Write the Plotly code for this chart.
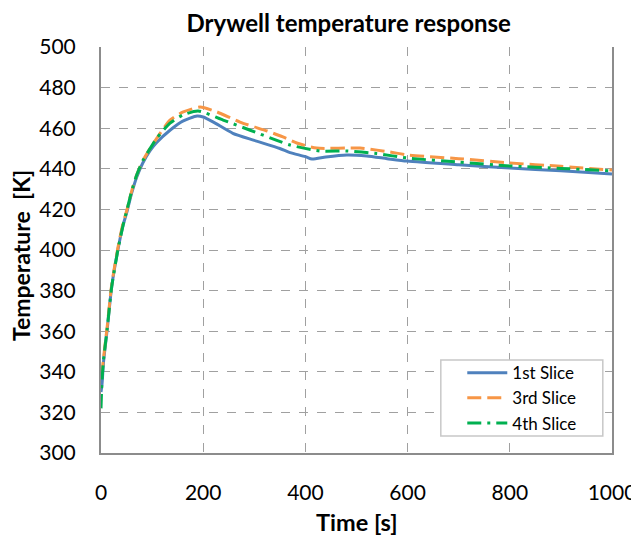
import plotly.graph_objects as go

# 1st Slice
t1 = [0, 2, 5, 12, 21, 33, 43, 51, 60, 70, 82, 96, 109, 135, 160, 188, 200, 220, 258, 300, 350, 370, 400, 413, 440, 481, 520, 560, 599, 700, 800, 900, 1000]
T1 = [330, 334, 345, 360.6, 382, 400, 412, 419, 428, 436, 443, 449, 453, 459, 463.5, 466, 465.5, 463, 457.5, 454, 450, 448, 446, 444.8, 445.8, 446.8, 446.3, 445, 443.8, 442, 440.4, 439, 437.4]

# 3rd Slice
t3 = [0, 2, 5, 12, 21, 33, 43, 51, 60, 70, 82, 96, 109, 135, 161, 194, 227, 272, 325, 356, 383, 422, 507, 565, 600, 700, 800, 900, 1000]
T3 = [338, 340, 347, 362, 383, 401, 413, 420, 429, 437, 444, 450, 455, 464, 468, 470.4, 468, 463, 458.6, 455.7, 452.7, 450.2, 450.2, 448.3, 446.8, 445, 442.9, 441.2, 439.4]

# 4th Slice
t4 = [0, 2, 5, 12, 21, 33, 43, 51, 60, 70, 82, 96, 109, 135, 160, 190, 239, 292, 344, 370, 428, 481, 539, 600, 700, 800, 900, 1000]
T4 = [322, 336, 346, 361, 382, 400, 412, 420, 429, 437, 444, 450, 455, 462.5, 466.5, 468.5, 464, 459, 454, 451.7, 448.8, 448.8, 447.5, 445.3, 443.3, 441.4, 440.2, 439]

title_text = "Drywell temperature response"
x_title = "Time [s]"
y_title = "Temperature&nbsp;&nbsp;[K]"

font_family = "Lato, Open Sans, sans-serif"

fig = go.Figure()
fig.add_trace(go.Scatter(x=t1, y=T1, mode="lines", name="1st Slice", legendgroup="a",
                         line=dict(color="#4F81BD", width=3, shape="spline", smoothing=0.6)))
fig.add_trace(go.Scatter(x=t3, y=T3, mode="lines", name="3rd Slice", legendgroup="b",
                         line=dict(color="#F79646", width=3, dash="14px,6px", shape="spline", smoothing=0.6)))
fig.add_trace(go.Scatter(x=t4, y=T4, mode="lines", name="4th Slice", legendgroup="c",
                         line=dict(color="#00B050", width=3, dash="14px,6px,3px,6px", shape="spline", smoothing=0.6)))

# page has an 8px body margin: figure is drawn 8px right and down
fig.update_layout(
    width=631, height=533,
    margin=dict(l=93, r=27, t=39, b=88, autoexpand=False),
    paper_bgcolor="white", plot_bgcolor="white",
    font=dict(family=font_family, color="black"),
    title=dict(text="<b>" + title_text + "</b>", xref="container", x=0.540, xanchor="center",
               y=0.970, yanchor="middle", font=dict(size=24, family=font_family)),
    showlegend=True,
    legend=dict(x=0.707, y=0.241, xanchor="left", yanchor="top",
                bgcolor="rgba(0,0,0,0)", borderwidth=0,
                font=dict(size=17, family=font_family), traceorder="grouped",
                tracegroupgap=0, itemwidth=40),
    shapes=[
        dict(type="rect", xref="paper", yref="paper", x0=0.665, x1=0.982, y0=0.042, y1=0.229,
             fillcolor="white", line=dict(color="#C8C8C8", width=1.5), layer="above"),
    ],
    annotations=[
        dict(text="<b>" + x_title + "</b>", xref="paper", yref="paper", x=0.5, y=0,
             yshift=-69, xanchor="center", yanchor="middle", showarrow=False,
             font=dict(size=23.5, family=font_family)),
        dict(text="<b>" + y_title + "</b>", xref="paper", yref="paper", x=0, y=0.485,
             xshift=-80, xanchor="center", yanchor="middle", showarrow=False, textangle=-90,
             font=dict(size=23, family=font_family)),
    ],
)
fig.update_xaxes(range=[0, 1000], dtick=200, showgrid=True, gridcolor="#A0A0A0",
                 griddash="dash", gridwidth=1, showline=True, linecolor="#8C8C8C", linewidth=2,
                 ticks="outside", ticklen=20, tickcolor="rgba(0,0,0,0)",
                 tickfont=dict(size=21), zeroline=False, automargin=False)
fig.update_yaxes(range=[300, 500], dtick=20, showgrid=True, gridcolor="#A0A0A0",
                 griddash="dash", gridwidth=1, showline=True, linecolor="#8C8C8C", linewidth=2,
                 mirror=True, ticks="outside", ticklen=19, tickcolor="rgba(0,0,0,0)",
                 tickfont=dict(size=21), zeroline=False, automargin=False)

fig.write_html("out.html")
